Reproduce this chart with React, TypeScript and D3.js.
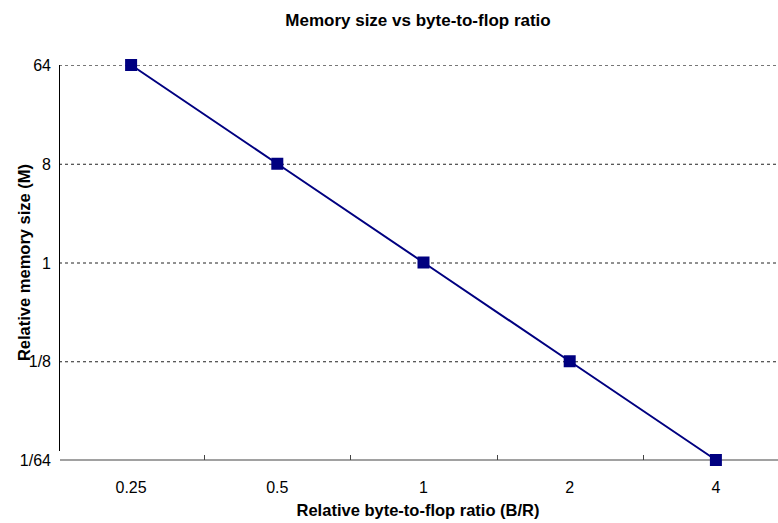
import React, { useEffect, useRef } from "react";
import * as d3 from "d3";

// byte-to-flop ratio categories and relative memory size
const ratios = ["0.25", "0.5", "1", "2", "4"];
const memory = [64, 8, 1, 1 / 8, 1 / 64];
const yTicks = [64, 8, 1, 1 / 8, 1 / 64];
const yTickLabels = ["64", "8", "1", "1/8", "1/64"];

const App = () => {
  const svgRef = useRef<SVGSVGElement>(null);

  useEffect(() => {
    const w = 778;
    const h = 523;
    const left = 58, right = 789, top = 65, bottom = 460;
    const svg = d3.select(svgRef.current).attr("width", w).attr("height", h);
    svg.selectAll("*").remove();
    const font = "'Liberation Sans', Arial, sans-serif";

    const xScale = d3.scaleBand().domain(ratios).range([left, right]).padding(0);
    const yScale = d3.scaleLog().base(2).domain([1 / 64, 64]).range([bottom, top]);

    // grid lines
    svg.append("g")
      .selectAll("line")
      .data(yTicks.slice(0, -1))
      .join("line")
      .attr("x1", left + 1)
      .attr("x2", 777)
      .attr("y1", (d) => yScale(d) + 0.5)
      .attr("y2", (d) => yScale(d) + 0.5)
      .attr("stroke", (d, i) => (i === 0 ? "#777" : "#222"))
      .attr("stroke-width", 1)
      .attr("stroke-dasharray", "3,3");

    // y axis line
    svg.append("line")
      .attr("x1", left + 1.5).attr("x2", left + 1.5)
      .attr("y1", top).attr("y2", bottom - 9)
      .attr("stroke", "#000").attr("stroke-width", 1);

    // x axis line
    svg.append("line")
      .attr("x1", left + 2).attr("x2", 778)
      .attr("y1", bottom).attr("y2", bottom)
      .attr("stroke", "#444").attr("stroke-width", 1.2);

    // x ticks at band boundaries
    svg.append("g")
      .selectAll("line")
      .data(ratios.slice(1))
      .join("line")
      .attr("x1", (d) => Math.round(xScale(d)!) + 0.5)
      .attr("x2", (d) => Math.round(xScale(d)!) + 0.5)
      .attr("y1", bottom - 5)
      .attr("y2", bottom)
      .attr("stroke", "#444");

    // x tick labels
    svg.append("g")
      .selectAll("text")
      .data(ratios)
      .join("text")
      .attr("x", (d) => xScale(d)! + xScale.bandwidth() / 2)
      .attr("y", bottom + 33)
      .attr("text-anchor", "middle")
      .attr("font-family", font)
      .attr("font-size", 16)
      .text((d) => d);

    // y tick labels
    svg.append("g")
      .selectAll("text")
      .data(yTicks)
      .join("text")
      .attr("x", 51)
      .attr("y", (d) => yScale(d) + 6)
      .attr("text-anchor", "end")
      .attr("font-family", font)
      .attr("font-size", 16)
      .text((d, i) => yTickLabels[i]);

    // series line
    const line = d3.line<number>()
      .x((d, i) => xScale(ratios[i])! + xScale.bandwidth() / 2)
      .y((d) => yScale(d));
    svg.append("path")
      .datum(memory)
      .attr("d", line)
      .attr("fill", "none")
      .attr("stroke", "#000080")
      .attr("stroke-width", 2);

    svg.append("g")
      .selectAll("rect")
      .data(memory)
      .join("rect")
      .attr("x", (d, i) => xScale(ratios[i])! + xScale.bandwidth() / 2 - 6)
      .attr("y", (d) => yScale(d) - 6)
      .attr("width", 12)
      .attr("height", 12)
      .attr("fill", "#000080");

    // titles
    svg.append("text")
      .attr("x", 418).attr("y", 26)
      .attr("text-anchor", "middle")
      .attr("font-family", font).attr("font-size", 17).attr("font-weight", "bold")
      .text("Memory size vs byte-to-flop ratio");
    svg.append("text")
      .attr("x", 418).attr("y", 516)
      .attr("text-anchor", "middle")
      .attr("font-family", font).attr("font-size", 16.5).attr("font-weight", "bold")
      .text("Relative byte-to-flop ratio (B/R)");
    svg.append("text")
      .attr("transform", `translate(30,${yScale(1)}) rotate(-90)`)
      .attr("text-anchor", "middle")
      .attr("font-family", font).attr("font-size", 16.5).attr("font-weight", "bold")
      .text("Relative memory size (M)");
  }, []);

  return (
    <div style={{ position: "absolute", left: 0, top: 0 }}>
      <svg ref={svgRef} style={{ display: "block" }}></svg>
    </div>
  );
};

export default App;
